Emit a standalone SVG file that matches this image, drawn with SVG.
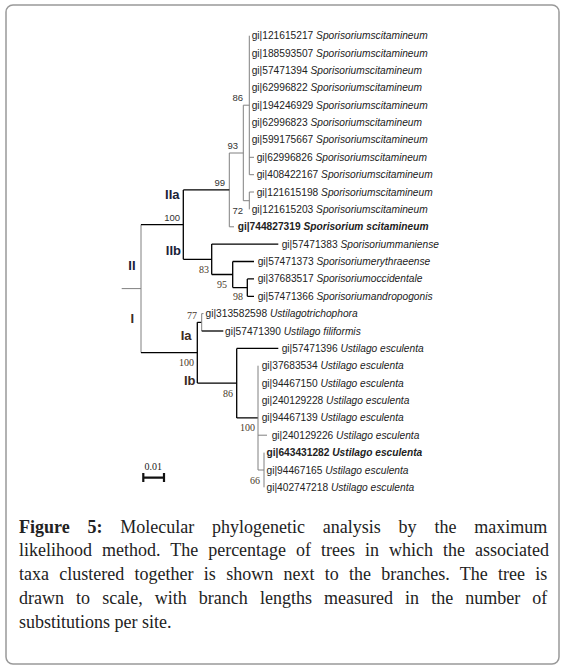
<svg xmlns="http://www.w3.org/2000/svg" width="565" height="669" viewBox="0 0 565 669">
<style>
.lf{font-family:"Liberation Sans",Arial,sans-serif;font-size:10.2px;fill:#222}
.sp{font-style:italic}
.bd{font-weight:bold}
.bs{font-family:"Liberation Sans",Arial,sans-serif;font-size:9.5px;fill:#333;text-anchor:end}
.bt{font-family:"Liberation Serif","Times New Roman",serif;font-size:10px;fill:#4a3a2a;text-anchor:end}
.cl{font-family:"Liberation Sans",Arial,sans-serif;font-size:13px;font-weight:bold;text-anchor:end}
.c2{fill:#1a2238}
.c1{fill:#3d2b1f}
.k{stroke:#000;stroke-width:1.3;fill:none}
.g{stroke:#808080;stroke-width:1;fill:none}
.cap{font-family:"Liberation Serif","Times New Roman",serif;font-size:18px;fill:#222}
</style>
<rect x="6" y="5" width="553" height="659" rx="7" fill="#fff" stroke="#999" stroke-width="1.5"/>
<g id="connectors">
<path class="g" d="M249.3 35.7V174.7M249.3 157.3H254M249.3 174.7H254"/>
<path class="g" d="M249.3 192V209.4M249.3 192H254"/>
<path class="g" d="M243.3 105.2V200.7M243.3 105.2H249.3M243.3 200.7H249.3"/>
<path class="g" d="M229.3 153V226.8M229.3 226.8H234"/>
<path class="g" d="M229.3 153H243.3"/>
<path class="k" d="M183.3 189.9H229.3"/>
<path class="k" d="M183.3 189.9V259.3M183.3 259.3H211.7"/>
<path class="k" d="M211.7 244.1V274.5M211.7 244.1H278.3M211.7 274.5H232.7"/>
<path class="k" d="M232.7 261.5V287.6M232.7 261.5H254M232.7 287.6H247.3"/>
<path class="k" d="M247.3 278.9V296.3M247.3 278.9H254M247.3 296.3H254"/>
<path class="g" d="M141 224.6V352.7M121.7 288.6H141"/>
<path class="k" d="M141 224.6H183.3M141 352.7H197.3"/>
<path class="k" d="M197.3 322.3V383.1M197.3 322.3H201.7M197.3 383.1H236.7"/>
<path class="g" d="M201.7 313.6V331M201.7 313.6H203.5"/>
<path class="k" d="M201.7 331H223.3"/>
<path class="k" d="M236.7 348.4V417.9M236.7 348.4H278.3M236.7 417.9H258"/>
<path class="g" d="M258 365.7V470M258 435.2H267M258 470H264"/>
<path class="g" d="M264 452.6V487.3"/>
</g>
<g id="leaves">
<text id="l0" class="lf" x="251.7" y="39.2">gi|121615217 <tspan class="sp">Sporisoriumscitamineum</tspan></text>
<text id="l1" class="lf" x="251.7" y="56.6">gi|188593507 <tspan class="sp">Sporisoriumscitamineum</tspan></text>
<text id="l2" class="lf" x="251.7" y="73.9">gi|57471394 <tspan class="sp">Sporisoriumscitamineum</tspan></text>
<text id="l3" class="lf" x="251.7" y="91.3">gi|62996822 <tspan class="sp">Sporisoriumscitamineum</tspan></text>
<text id="l4" class="lf" x="251.7" y="108.7">gi|194246929 <tspan class="sp">Sporisoriumscitamineum</tspan></text>
<text id="l5" class="lf" x="251.7" y="126">gi|62996823 <tspan class="sp">Sporisoriumscitamineum</tspan></text>
<text id="l6" class="lf" x="251.7" y="143.4">gi|599175667 <tspan class="sp">Sporisoriumscitamineum</tspan></text>
<text id="l7" class="lf" x="256.7" y="160.8">gi|62996826 <tspan class="sp">Sporisoriumscitamineum</tspan></text>
<text id="l8" class="lf" x="256.7" y="178.2">gi|408422167 <tspan class="sp">Sporisoriumscitamineum</tspan></text>
<text id="l9" class="lf" x="256.7" y="195.5">gi|121615198 <tspan class="sp">Sporisoriumscitamineum</tspan></text>
<text id="l10" class="lf" x="251.7" y="212.9">gi|121615203 <tspan class="sp">Sporisoriumscitamineum</tspan></text>
<text id="l11" class="lf bd" x="237.7" y="230.3" font-size="10">gi|744827319 <tspan class="sp">Sporisorium scitamineum</tspan></text>
<text id="l12" class="lf" x="281.7" y="247.6">gi|57471383 <tspan class="sp">Sporisoriummaniense</tspan></text>
<text id="l13" class="lf" x="257.7" y="265">gi|57471373 <tspan class="sp">Sporisoriumerythraeense</tspan></text>
<text id="l14" class="lf" x="257.7" y="282.4">gi|37683517 <tspan class="sp">Sporisoriumoccidentale</tspan></text>
<text id="l15" class="lf" x="257.7" y="299.8">gi|57471366 <tspan class="sp">Sporisoriumandropogonis</tspan></text>
<text id="l16" class="lf" x="205.5" y="317.1">gi|313582598 <tspan class="sp">Ustilagotrichophora</tspan></text>
<text id="l17" class="lf" x="225" y="334.5">gi|57471390 <tspan class="sp">Ustilago filiformis</tspan></text>
<text id="l18" class="lf" x="281.7" y="351.9">gi|57471396 <tspan class="sp">Ustilago esculenta</tspan></text>
<text id="l19" class="lf" x="261.7" y="369.2">gi|37683534 <tspan class="sp">Ustilago esculenta</tspan></text>
<text id="l20" class="lf" x="261.7" y="386.6">gi|94467150 <tspan class="sp">Ustilago esculenta</tspan></text>
<text id="l21" class="lf" x="261.7" y="404">gi|240129228 <tspan class="sp">Ustilago esculenta</tspan></text>
<text id="l22" class="lf" x="261.7" y="421.3">gi|94467139 <tspan class="sp">Ustilago esculenta</tspan></text>
<text id="l23" class="lf" x="271.7" y="438.7">gi|240129226 <tspan class="sp">Ustilago esculenta</tspan></text>
<text id="l24" class="lf bd" x="266.5" y="456.1" font-size="10">gi|643431282 <tspan class="sp">Ustilago esculenta</tspan></text>
<text id="l25" class="lf" x="266.5" y="473.5">gi|94467165 <tspan class="sp">Ustilago esculenta</tspan></text>
<text id="l26" class="lf" x="266.5" y="490.8">gi|402747218 <tspan class="sp">Ustilago esculenta</tspan></text>
</g>
<g id="support">
<text class="bs" x="243" y="100.5">86</text>
<text class="bs" x="238" y="148.5">93</text>
<text class="bs" x="225" y="185.5">99</text>
<text class="bs" x="243" y="214">72</text>
<text class="bs" x="180" y="220.5">100</text>
<text class="bt" x="209" y="272.5">83</text>
<text class="bt" x="227" y="287.5">95</text>
<text class="bt" x="243" y="300">98</text>
<text class="bt" x="197" y="318.5">77</text>
<text class="bt" x="194" y="366">100</text>
<text class="bt" x="233" y="397">86</text>
<text class="bt" x="255" y="431">100</text>
<text class="bt" x="260" y="483.5">66</text>
</g>
<g id="clades">
<text class="cl c2" x="179.5" y="198.5">IIa</text>
<text class="cl c2" x="181" y="255">IIb</text>
<text class="cl c2" x="135.5" y="269.5">II</text>
<text class="cl c1" x="134" y="323">I</text>
<text class="cl c1" x="191.5" y="340">Ia</text>
<text class="cl c1" x="195.5" y="384.5">Ib</text>
</g>
<g id="scale">
<text class="bt" x="162" y="470" style="fill:#222">0.01</text>
<path d="M143.3 477.7H164M143.3 473V482M164 473V482" stroke="#111" stroke-width="2.2" fill="none"/>
</g>
<g id="caption">
<text class="cap" x="19" y="532.5" word-spacing="13.3"><tspan font-weight="bold">Figure 5:</tspan> Molecular phylogenetic analysis by the maximum</text>
<text class="cap" x="19" y="556.3" word-spacing="5.5">likelihood method. The percentage of trees in which the associated</text>
<text class="cap" x="19" y="580.1" word-spacing="5.8">taxa clustered together is shown next to the branches. The tree is</text>
<text class="cap" x="19" y="603.9" word-spacing="7.6">drawn to scale, with branch lengths measured in the number of</text>
<text class="cap" x="19" y="627.7">substitutions per site.</text>
</g>
</svg>
